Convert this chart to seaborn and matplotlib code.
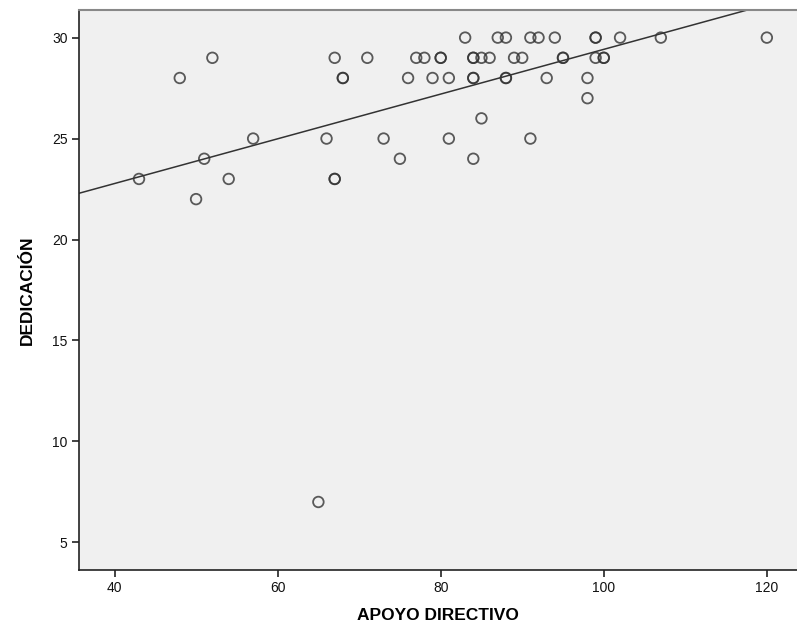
import matplotlib
matplotlib.use("Agg")
import matplotlib.pyplot as plt
import seaborn as sns
import pandas as pd

apoyo = [43, 48, 50, 51, 52, 54, 57, 65, 66, 67, 67, 67, 68, 68, 71, 73, 75, 76, 77, 78,
         79, 80, 80, 81, 81, 83, 84, 84, 84, 84, 84, 85, 85, 86, 87, 88, 88, 88, 89, 90,
         91, 91, 92, 93, 94, 95, 95, 98, 98, 99, 99, 99, 100, 100, 102, 107, 120]
dedicacion = [23, 28, 22, 24, 29, 23, 25, 7, 25, 29, 23, 23, 28, 28, 29, 25, 24, 28, 29, 29,
              28, 29, 29, 28, 25, 30, 29, 29, 28, 28, 24, 29, 26, 29, 30, 30, 28, 28, 29, 29,
              30, 25, 30, 28, 30, 29, 29, 28, 27, 30, 30, 29, 29, 29, 30, 30, 30]
x_ticks = [40, 60, 80, 100, 120]
y_ticks = [5, 10, 15, 20, 25, 30]

df = pd.DataFrame({"APOYO DIRECTIVO": apoyo, "DEDICACIÓN": dedicacion})

sns.set_style("white")
plt.rcParams['font.family'] = ['Liberation Sans', 'DejaVu Sans']

fig = plt.figure(figsize=(7.97, 6.30), dpi=100)
ax = fig.add_axes([0.0987, 0.0952, 0.9013, 0.889])
ax.set_facecolor("#F0F0F0")
ax.set_xlim(35.6, 123.7)
ax.set_ylim(3.63, 31.37)

sns.regplot(data=df, x="APOYO DIRECTIVO", y="DEDICACIÓN", ax=ax, ci=None, truncate=False,
            scatter_kws=dict(marker="o", s=58, facecolors="none", edgecolors="#333333", linewidths=1.3),
            line_kws=dict(color="#333333", linewidth=1.1))

ax.set_xlim(35.6, 123.7)
ax.set_ylim(3.63, 31.37)
ax.set_xticks(x_ticks)
ax.set_yticks(y_ticks)
ax.tick_params(axis="both", direction="out", length=5, width=1.2, color="#222222",
               labelsize=10, labelcolor="#111111", bottom=True, left=True, pad=3)

for s in ["left", "bottom"]:
    ax.spines[s].set_color("#222222")
    ax.spines[s].set_linewidth(1.2)
ax.spines["top"].set_color("#888888")
ax.spines["top"].set_linewidth(1.5)
ax.spines["right"].set_visible(False)

ax.set_xlabel("APOYO DIRECTIVO", fontsize=12.5, fontweight="bold", labelpad=9, color="black")
ax.set_ylabel("DEDICACIÓN", fontsize=12.5, fontweight="bold", labelpad=12, color="black")

fig.savefig("out.png", dpi=100)
